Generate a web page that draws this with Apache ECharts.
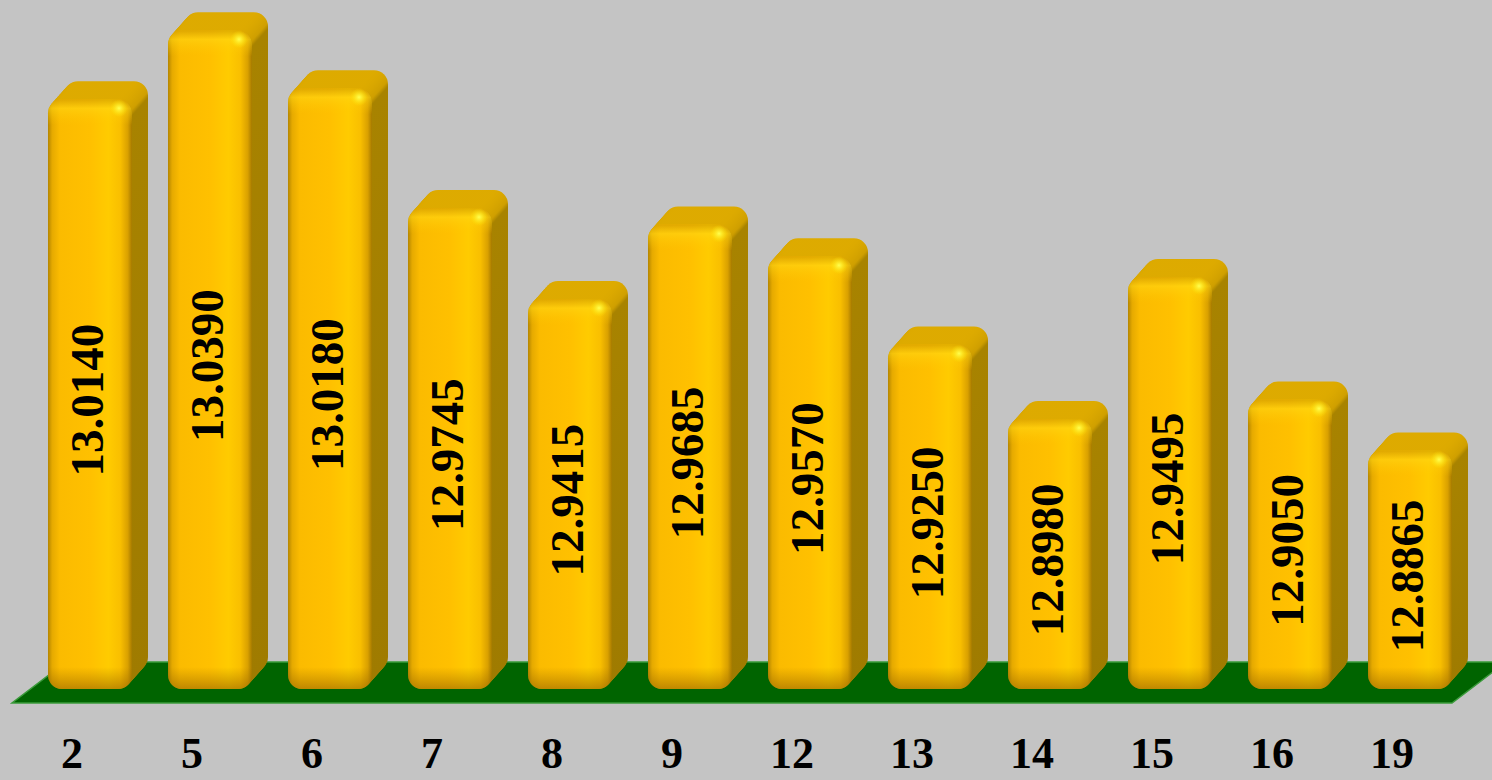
<!DOCTYPE html>
<html>
<head>
<meta charset="utf-8">
<script src="https://cdn.jsdelivr.net/npm/echarts@6/dist/echarts.min.js"></script>
<style>
html,body{margin:0;padding:0;background:#c4c4c4;}
#chart{width:1492px;height:780px;}
</style>
</head>
<body>
<div id="chart"></div>
<script>
const categories = ['2', '5', '6', '7', '8', '9', '12', '13', '14', '15', '16', '19'];
const values = [13.0140, 13.0390, 13.0180, 12.9745, 12.9415, 12.9685, 12.9570, 12.9250, 12.8980, 12.9495, 12.9050, 12.8865];
const valueLabels = ['13.0140', '13.0390', '13.0180', '12.9745', '12.9415', '12.9685', '12.9570', '12.9250', '12.8980', '12.9495', '12.9050', '12.8865'];
const axisMin = 12.8;
const axisMax = 13.05;

const SERIF = '"Liberation Serif", "DejaVu Serif", serif';
const DX = 16, DY = 18, R = 14;

function renderBar(params, api) {
  const idx = api.value(0);
  const val = api.value(1);
  const topPt = api.coord([idx, val]);
  const basePt = api.coord([idx, axisMin]);
  const w = api.size([1, 0])[0] * 0.7;
  const cx = topPt[0];
  const x0 = cx - w / 2, x1 = cx + w / 2;
  const top = topPt[1], base = basePt[1];
  const h = base - top;
  const children = [];
  const N = 18;
  const rf = Math.min(0.45, R / h);
  for (let i = N; i >= 1; i--) {
    const t = i / N;
    children.push({
      type: 'rect',
      shape: { x: x0 + t * DX, y: top - t * DY, width: w, height: h, r: R },
      style: {
        fill: {
          type: 'linear', x: 0, y: 0, x2: 0, y2: 1,
          colorStops: [
            { offset: 0, color: '#deab00' },
            { offset: rf * 0.8, color: '#cf9f00' },
            { offset: rf * 1.2, color: '#a88300' },
            { offset: 1, color: '#9f7b00' }
          ]
        }
      },
      silent: true
    });
  }
  children.push({
    type: 'rect',
    shape: { x: x0, y: top, width: w, height: h, r: R },
    style: {
      fill: {
        type: 'linear', x: 0, y: 0, x2: 1, y2: 0,
        colorStops: [
          { offset: 0, color: '#b48500' },
          { offset: 0.05, color: '#e6aa00' },
          { offset: 0.14, color: '#fbbb00' },
          { offset: 0.5, color: '#ffc000' },
          { offset: 0.72, color: '#ffcb00' },
          { offset: 0.86, color: '#f9bf00' },
          { offset: 0.95, color: '#d9a000' },
          { offset: 1, color: '#a57a00' }
        ]
      }
    }
  });
  children.push({
    type: 'rect',
    shape: { x: x0, y: top, width: w, height: 26, r: [R, R, 0, 0] },
    style: {
      fill: {
        type: 'linear', x: 0, y: 0, x2: 0, y2: 1,
        colorStops: [
          { offset: 0, color: 'rgba(200,150,0,0.55)' },
          { offset: 0.35, color: 'rgba(255,215,20,0.55)' },
          { offset: 1, color: 'rgba(255,200,0,0)' }
        ]
      }
    },
    silent: true
  });
  children.push({
    type: 'rect',
    shape: { x: x0, y: base - 22, width: w, height: 22, r: [0, 0, R, R] },
    style: {
      fill: {
        type: 'linear', x: 0, y: 0, x2: 0, y2: 1,
        colorStops: [
          { offset: 0, color: 'rgba(160,110,0,0)' },
          { offset: 1, color: 'rgba(150,100,0,0.6)' }
        ]
      }
    },
    silent: true
  });
  children.push({
    type: 'circle',
    shape: { cx: x1 - 13, cy: top + 9, r: 9 },
    style: {
      fill: {
        type: 'radial', x: 0.5, y: 0.5, r: 0.5,
        colorStops: [
          { offset: 0, color: 'rgba(255,255,80,1)' },
          { offset: 1, color: 'rgba(255,230,0,0)' }
        ]
      }
    },
    silent: true
  });
  children.push({
    type: 'text',
    x: cx - 3,
    y: top + h / 2 + 6,
    rotation: Math.PI / 2,
    style: {
      text: valueLabels[params.dataIndex],
      fill: '#000',
      font: 'bold 47px ' + SERIF,
      align: 'center',
      verticalAlign: 'middle'
    }
  });
  return { type: 'group', children: children };
}

function renderFloor(params, api) {
  const cs = params.coordSys;
  const left = cs.x, right = cs.x + cs.width, bottom = cs.y + cs.height;
  const fy = bottom + 14, by = bottom - 27;
  const sx = -18;
  return {
    type: 'polygon',
    shape: { points: [[left + sx, fy], [right + sx, fy], [right + sx + 54, by], [left + sx + 54, by]] },
    style: { fill: '#006400', stroke: '#3a9a3a', lineWidth: 1.5 },
    silent: true
  };
}

const chart = echarts.init(document.getElementById('chart'), null, { renderer: 'svg' });
chart.setOption({
  backgroundColor: '#c4c4c4',
  animation: false,
  grid: { left: 30, right: 22, top: -6, bottom: 91, containLabel: false },
  xAxis: {
    type: 'category',
    data: categories,
    axisLine: { show: false },
    axisTick: { show: false },
    splitLine: { show: false },
    axisLabel: {
      interval: 0,
      margin: 45,
      fontFamily: SERIF,
      fontWeight: 'bold',
      fontSize: 44,
      lineHeight: 38,
      color: '#000',
      padding: [0, 36, 0, 0]
    }
  },
  yAxis: {
    type: 'value',
    min: axisMin,
    max: axisMax,
    show: false,
    splitLine: { show: false }
  },
  series: [
    {
      type: 'custom',
      name: 'floor',
      z: 1,
      renderItem: renderFloor,
      data: [[0, axisMin]],
      silent: true
    },
    {
      type: 'custom',
      name: 'values',
      z: 2,
      renderItem: renderBar,
      encode: { x: 0, y: 1 },
      data: values.map((v, i) => [i, v])
    }
  ]
});
</script>
</body>
</html>
